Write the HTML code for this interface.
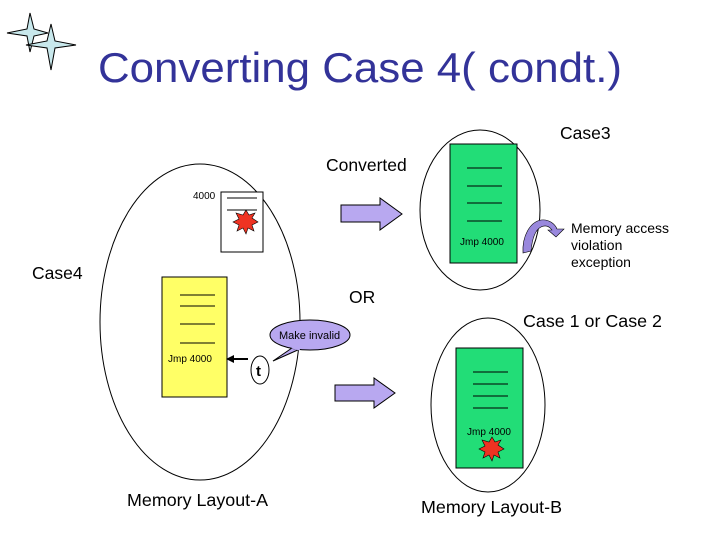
<!DOCTYPE html>
<html><head><style>
body{margin:0;background:#fff}
svg{display:block}
text{font-family:"Liberation Sans",sans-serif}
</style></head><body>
<svg width="720" height="540" viewBox="0 0 720 540" xmlns="http://www.w3.org/2000/svg">
<!-- stars -->
<g fill="#c8e8ec" stroke="#000" stroke-width="1">
<path d="M30,13 L34,29 L48,33 L34,36 L30,52 L27,36 L7,33 L27,29 Z"/>
<path d="M51,24 L55,41 L76,45 L55,48 L51,70 L47,48 L26,45 L47,41 Z"/>
</g>
<text x="98" y="82" font-size="42" fill="#333399" textLength="524" lengthAdjust="spacingAndGlyphs">Converting Case 4( condt.)</text>

<g fill="none" stroke="#000" stroke-width="1">
<ellipse cx="200" cy="322" rx="100" ry="158"/>
<ellipse cx="480" cy="210" rx="60" ry="80"/>
<ellipse cx="488" cy="405" rx="57" ry="87"/>
</g>

<!-- white box -->
<rect x="221" y="192" width="42" height="60" fill="#fff" stroke="#000"/>
<line x1="227" y1="198" x2="257" y2="198" stroke="#000"/>
<line x1="227" y1="210" x2="257" y2="210" stroke="#000"/>
<polygon points="246,210 249,215 255,213 252,218 258,222 252,225 254,231 248,228 246,234 243,228 237,231 239,225 233,222 239,219 236,213 243,215" fill="#ee3322" stroke="#000" stroke-width="0.6"/>
<text x="193" y="199" font-size="10">4000</text>

<!-- yellow box -->
<rect x="162" y="277" width="65" height="120" fill="#ffff66" stroke="#000"/>
<g stroke="#000"><line x1="180" y1="295" x2="215" y2="295"/><line x1="180" y1="306" x2="215" y2="306"/><line x1="180" y1="324" x2="215" y2="324"/><line x1="180" y1="343" x2="215" y2="343"/></g>
<text x="168" y="362" font-size="10">Jmp 4000</text>
<line x1="248" y1="359" x2="232" y2="359" stroke="#000" stroke-width="2"/>
<polygon points="226,359 234,355 234,363" fill="#000"/>
<ellipse cx="260" cy="370" rx="9" ry="14" fill="#fff" stroke="#000"/>
<text x="256" y="376" font-size="15" font-weight="bold">t</text>
<!-- callout -->
<path d="M292,348 L273,361 L300,349 Z" fill="#b8a8f0" stroke="#000"/>
<ellipse cx="310" cy="335" rx="40" ry="15" fill="#b8a8f0" stroke="#000"/>
<path d="M292,347 L300,349" stroke="#b8a8f0" stroke-width="3"/>
<text x="279" y="339" font-size="11">Make invalid</text>

<!-- purple arrows -->
<polygon points="341,205 380,205 380,198 402,214 380,230 380,222 341,222" fill="#b8a8f0" stroke="#000"/>
<polygon points="335,385 374,385 374,378 395,393 374,408 374,401 335,401" fill="#b8a8f0" stroke="#000"/>

<!-- green top -->
<rect x="450" y="144" width="67" height="119" fill="#22dd77" stroke="#000"/>
<g stroke="#000"><line x1="467" y1="168" x2="502" y2="168"/><line x1="467" y1="186" x2="502" y2="186"/><line x1="467" y1="203" x2="502" y2="203"/><line x1="467" y1="221" x2="502" y2="221"/></g>
<text x="460" y="245" font-size="10">Jmp 4000</text>
<!-- curved arrow -->
<path d="M523,253 C522,236 530,222 541,220 C549,219 555,224 557,229 L564,229 L556,237 L548,230 L552,230 C549,226 545,225 541,227 C535,230 532,240 531,251 Z" fill="#9988dd" stroke="#000" stroke-width="0.6"/>

<!-- green B -->
<rect x="456" y="348" width="67" height="120" fill="#22dd77" stroke="#000"/>
<g stroke="#000"><line x1="473" y1="372" x2="508" y2="372"/><line x1="473" y1="384" x2="508" y2="384"/><line x1="473" y1="396" x2="508" y2="396"/><line x1="473" y1="408" x2="508" y2="408"/></g>
<text x="467" y="435" font-size="10">Jmp 4000</text>
<polygon points="492,437 495,442 501,440 498,445 504,449 498,452 500,458 494,455 492,461 489,455 483,458 485,452 479,449 485,446 482,440 489,442" fill="#ee3322" stroke="#000" stroke-width="0.6"/>

<g font-size="17.5">
<text x="560" y="139">Case3</text>
<text x="326" y="171">Converted</text>
<text x="32" y="279">Case4</text>
<text x="349" y="303">OR</text>
<text x="523" y="327" textLength="139" lengthAdjust="spacingAndGlyphs">Case 1 or Case 2</text>
<text x="127" y="506" textLength="141" lengthAdjust="spacingAndGlyphs">Memory Layout-A</text>
<text x="421" y="513" textLength="141" lengthAdjust="spacingAndGlyphs">Memory Layout-B</text>
</g>
<g font-size="14">
<text x="571" y="233">Memory access</text>
<text x="571" y="250">violation</text>
<text x="571" y="267">exception</text>
</g>
</svg>
</body></html>
